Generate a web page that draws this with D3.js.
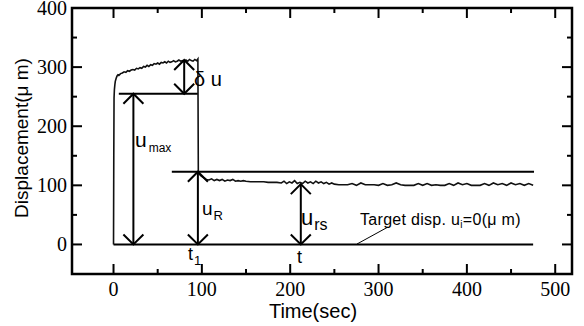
<!DOCTYPE html>
<html>
<head>
<meta charset="utf-8">
<script src="https://cdn.jsdelivr.net/npm/d3@7"></script>
<style>
  body { margin: 0; background: #fff; }
  svg { display: block; }
  .serif { font-family: "Liberation Serif", "Times New Roman", Times, serif; }
  .sans { font-family: "Liberation Sans", Arial, Helvetica, sans-serif; }
</style>
</head>
<body>
<div id="chart"></div>
<script>
// displacement trace (time in sec, displacement in um)
const loadTime = [0, 0.3, 0.6, 1, 1.5, 2, 3, 4, 5, 6, 8, 10, 12, 14, 16, 18, 20, 22, 24, 26, 28, 30, 32, 34, 36, 38, 40, 42, 44, 46, 48, 50, 52, 54, 56, 58, 60, 62, 64, 66, 68, 70, 72, 74, 76, 78, 80, 82, 84, 86, 88, 90, 92, 94, 95.5];
const loadDisp = [0, 150, 248, 262, 270, 276, 281, 285, 287, 286, 289, 290, 292, 291, 294, 293, 295, 296, 295, 298, 297, 299, 298, 301, 300, 303, 301, 304, 303, 306, 305, 307, 305, 308, 307, 309, 307, 310, 308, 309, 311, 309, 310, 312, 310, 311, 309, 312, 310, 313, 311, 310, 313, 311, 314];

const relaxTime = [96, 97, 99, 101, 103, 105, 108, 111, 114, 117, 120, 123, 126, 129, 132, 135, 138, 141, 144, 147, 150, 155, 160, 165, 170, 175, 180, 185, 190, 193, 196, 199, 202, 205, 208, 211, 214, 217, 220, 223, 226, 229, 232, 235, 238, 241, 244, 247, 250, 255, 260, 265, 270, 275, 280, 285, 290, 295, 300, 305, 310, 315, 320, 325, 330, 335, 340, 345, 350, 355, 360, 365, 370, 375, 380, 385, 390, 395, 400, 405, 410, 415, 420, 425, 430, 435, 440, 445, 450, 455, 460, 465, 470, 475];
const relaxDisp = [123, 119, 116, 114, 112, 110, 109, 111, 108, 110, 108, 110, 107, 109, 108, 110, 107, 108, 107, 108, 107, 106, 106, 106, 106, 105, 105, 105, 104, 107, 103, 106, 104, 108, 103, 105, 103, 107, 104, 106, 103, 107, 104, 106, 103, 105, 102, 104, 102, 101, 101, 101, 103, 100, 104, 101, 101, 101, 100, 103, 100, 101, 104, 101, 100, 100, 100, 103, 100, 103, 100, 101, 100, 100, 103, 100, 104, 101, 103, 100, 100, 100, 103, 100, 104, 101, 103, 100, 104, 101, 103, 100, 103, 100];

// reference lines [y, tStart, tEnd]
const refLines = [[0, 0, 475], [255, 6, 95.5], [123, 66, 476]];
// double arrows [t, yFrom, yTo]
const arrows = [[22.5, 0, 255], [80, 255, 312], [95.5, 0, 123], [212, 0, 102]];

const xTicks = [0, 100, 200, 300, 400, 500];
const xMinor = [50, 150, 250, 350, 450];
const yTicks = [0, 100, 200, 300, 400];
const yMinor = [-50, 50, 150, 250, 350];

(function() {
  const width = 584, height = 326;
  const left = 72, right = 572, top = 8, bottom = 274;

  const svg = d3.select("#chart").append("svg")
    .attr("width", width)
    .attr("height", height);

  const x = d3.scaleLinear().domain([-47, 519]).range([left, right]);
  const y = d3.scaleLinear().domain([-50, 400]).range([bottom, top]);

  // ticks on all four sides, pointing inward
  const ticks = svg.append("g").attr("stroke", "#000").attr("stroke-width", 2);
  function xTickMarks(vals, len) {
    vals.forEach(v => {
      ticks.append("line").attr("x1", x(v)).attr("x2", x(v)).attr("y1", bottom).attr("y2", bottom - len);
      ticks.append("line").attr("x1", x(v)).attr("x2", x(v)).attr("y1", top).attr("y2", top + len);
    });
  }
  function yTickMarks(vals, len) {
    vals.forEach(v => {
      ticks.append("line").attr("x1", left).attr("x2", left + len).attr("y1", y(v)).attr("y2", y(v));
      ticks.append("line").attr("x1", right).attr("x2", right - len).attr("y1", y(v)).attr("y2", y(v));
    });
  }
  xTickMarks(xTicks, 10);
  xTickMarks(xMinor, 5);
  yTickMarks(yTicks, 10);
  yTickMarks(yMinor, 5);

  svg.append("rect")
    .attr("x", left).attr("y", top)
    .attr("width", right - left).attr("height", bottom - top)
    .attr("fill", "none").attr("stroke", "#000").attr("stroke-width", 2.5);

  svg.selectAll(".xlab").data(xTicks).enter().append("text")
    .attr("class", "serif")
    .attr("x", d => x(d)).attr("y", 296)
    .attr("text-anchor", "middle")
    .attr("font-size", "20px")
    .text(d => d);

  svg.selectAll(".ylab").data(yTicks).enter().append("text")
    .attr("class", "serif")
    .attr("x", 67).attr("y", d => y(d)).attr("dy", "0.35em")
    .attr("text-anchor", "end")
    .attr("font-size", "20px")
    .text(d => d);

  svg.append("text")
    .attr("class", "sans")
    .attr("x", 313).attr("y", 318)
    .attr("text-anchor", "middle")
    .attr("font-size", "20px")
    .text("Time(sec)");

  svg.append("text")
    .attr("class", "sans")
    .attr("transform", `translate(28, ${(top + bottom) / 2 - 3}) rotate(-90)`)
    .attr("text-anchor", "middle")
    .attr("font-size", "19px")
    .text("Displacement(\u03bc m)");

  // reference lines
  svg.selectAll(".ref").data(refLines).enter().append("line")
    .attr("x1", d => x(d[1])).attr("x2", d => x(d[2]))
    .attr("y1", d => y(d[0])).attr("y2", d => y(d[0]))
    .attr("stroke", "#000").attr("stroke-width", 2);

  // trace
  const trace = loadTime.map((t, i) => [t, loadDisp[i]])
    .concat(relaxTime.map((t, i) => [t, relaxDisp[i]]));
  const line = d3.line().x(d => x(d[0])).y(d => y(d[1]));
  svg.append("path")
    .attr("d", line(trace))
    .attr("fill", "none").attr("stroke", "#111").attr("stroke-width", 1.6);

  // arrows with open V heads
  const head = 10;
  arrows.forEach(([t, a, b]) => {
    const px = x(t), ya = y(a), yb = y(b);
    const g = svg.append("g").attr("stroke", "#000").attr("stroke-width", 2).attr("fill", "none");
    g.append("line").attr("x1", px).attr("x2", px).attr("y1", ya).attr("y2", yb);
    const dir = ya > yb ? 1 : -1;
    g.append("path").attr("d", `M${px - head},${ya - dir * head}L${px},${ya}L${px + head},${ya - dir * head}`);
    g.append("path").attr("d", `M${px - head},${yb + dir * head}L${px},${yb}L${px + head},${yb + dir * head}`);
  });

  // annotation text
  function label(px, py, main, sub, size, subSize, dx) {
    const t = svg.append("text")
      .attr("class", "sans")
      .attr("x", px).attr("y", py)
      .attr("font-size", size + "px");
    t.append("tspan").text(main);
    if (sub) t.append("tspan").attr("font-size", subSize + "px").attr("dx", dx || 1).attr("dy", 5).text(sub);
  }
  label(194, 86, "\u03b4 u", null, 20);
  label(135, 147, "u", "max", 21, 12, 2);
  label(202, 215, "u", "R", 19, 13, 1);
  label(301, 225, "u", "rs", 22, 16, 1);
  label(188, 260, "t", "1", 18, 13, 0);
  label(297, 263, "t", null, 18);

  const tgt = svg.append("text")
    .attr("class", "sans")
    .attr("x", 360).attr("y", 225)
    .attr("font-size", "16px")
    .attr("letter-spacing", "0.3px");
  tgt.append("tspan").text("Target disp. u");
  tgt.append("tspan").attr("font-size", "10px").attr("dy", 3).text("i");
  tgt.append("tspan").attr("dy", -3).text("=0(\u03bc m)");

  svg.append("line")
    .attr("x1", 357).attr("y1", 244).attr("x2", 388).attr("y2", 227)
    .attr("stroke", "#000").attr("stroke-width", 1);
})();
</script>
</body>
</html>
